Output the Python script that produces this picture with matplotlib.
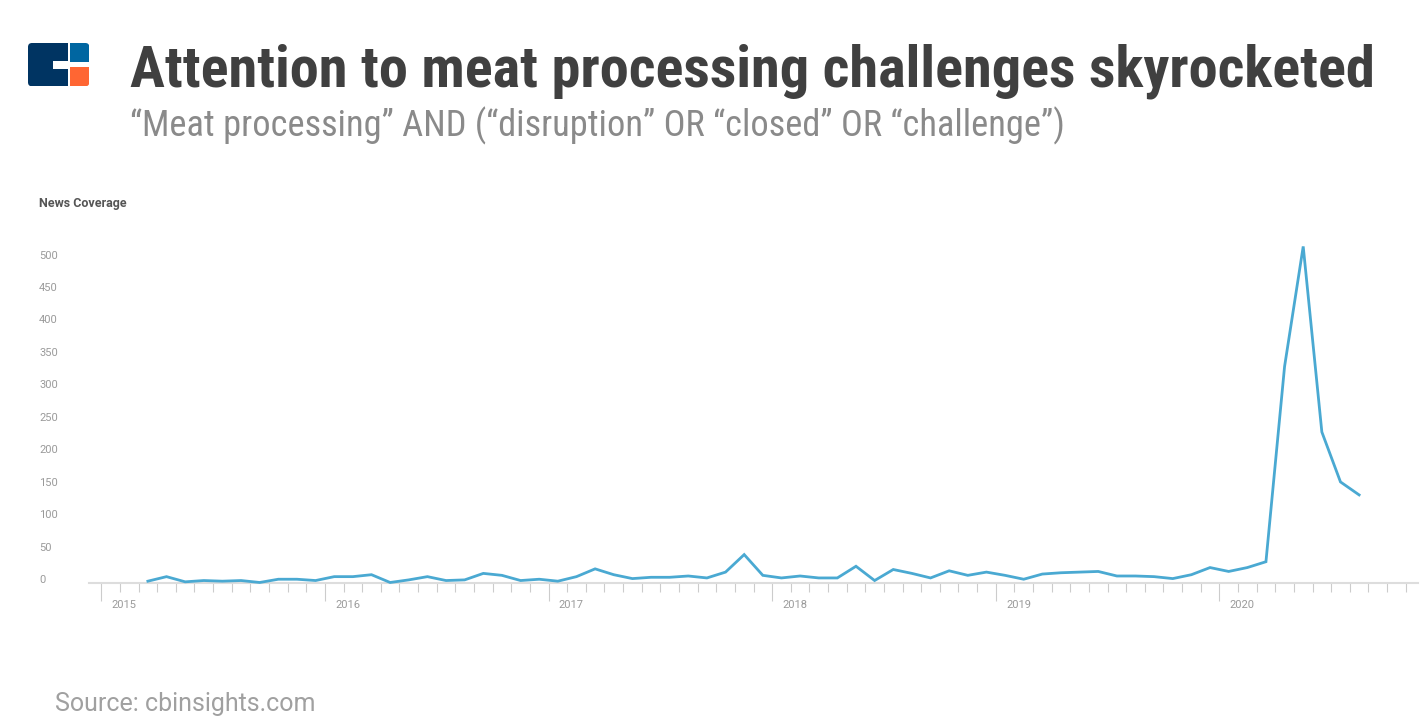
import matplotlib
matplotlib.use("Agg")
import matplotlib.pyplot as plt
from matplotlib import font_manager as fm
from matplotlib.patches import FancyBboxPatch, Rectangle
import matplotlib.transforms as mtransforms
import pandas as pd

# ---------------- data ----------------
start_month = "2015-03-01"
values = [
    # 2015 Mar..Dec
    2, 9, 1, 3, 2, 3, 0, 5, 5, 3,
    # 2016
    9, 9, 12, 0, 4, 9, 3, 4, 14, 11, 3, 5,
    # 2017
    2, 9, 21, 12, 6, 8, 8, 10, 7, 16, 43, 11,
    # 2018
    7, 10, 7, 7, 25, 3, 20, 14, 7, 18, 11, 16,
    # 2019
    11, 5, 13, 15, 16, 17, 10, 10, 9, 6, 12, 23,
    # 2020 Jan..Aug
    17, 23, 32, 333, 518, 232, 155, 135,
]
year_labels = ["2015", "2016", "2017", "2018", "2019", "2020"]
ytick_values = [0, 50, 100, 150, 200, 250, 300, 350, 400, 450, 500]

title = "Attention to meat processing challenges skyrocketed"
subtitle = "\u201cMeat processing\u201d AND (\u201cdisruption\u201d OR \u201cclosed\u201d OR \u201cchallenge\u201d)"
axis_title = "News Coverage"
source = "Source: cbinsights.com"

# ---------------- fonts ----------------
def pick_condensed(bold):
    best, best_score = None, -1
    for f in fm.fontManager.ttflist:
        s = (f.fname + " " + f.name).lower()
        w = f.weight if isinstance(f.weight, int) else fm.weight_dict.get(f.weight, 400)
        if bold and w < 600:
            continue
        if (not bold) and (w < 300 or w > 500):
            continue
        if "italic" in s or "oblique" in s or f.style != "normal":
            continue
        if "roboto" in s and "condensed" in s:
            score = 3
        elif "narrow" in s:
            score = 2
        elif "condensed" in s or f.stretch in ("condensed", "semi-condensed"):
            score = 1
        else:
            continue
        if not bold:
            score += 0.001 * (500 - abs(w - 400))
        if score > best_score:
            best, best_score = f, score
    return best

fb = pick_condensed(True)
fr = pick_condensed(False)
title_fp = fm.FontProperties(fname=fb.fname) if fb else fm.FontProperties(family="Roboto", weight="bold")
sub_fp = fm.FontProperties(fname=fr.fname) if fr else fm.FontProperties(family="Roboto")
plt.rcParams["font.family"] = ["Roboto", "DejaVu Sans"]

W, H = 1426, 728
fig = plt.figure(figsize=(W / 100, H / 100), dpi=100)
fig.patch.set_facecolor("white")

# ---------------- axes ----------------
ax = fig.add_axes([89 / W, 1 - 583 / H, (1418 - 89) / W, (583 - 219) / H])
dates = pd.date_range(start_month, periods=len(values), freq="MS")
x = dates.year + (dates.month - 0.5) / 12.0
ax.plot(x, values, color="#4aa9d2", lw=2.0, solid_joinstyle="miter", clip_on=False, zorder=3)

ax.set_xlim(2015 - 0.66 / 12, 2020 + 10.66 / 12)
ax.set_ylim(-0.8, 560.3)

years = [int(y) for y in year_labels]
ax.set_xticks(years)
minor = [y + m / 12 for y in range(2015, 2021) for m in range(1, 12) if y + m / 12 < 2020.9]
ax.set_xticks(minor, minor=True)
ax.tick_params(axis="x", which="major", length=13, width=0.8, color="#cccccc", labelbottom=False)
ax.tick_params(axis="x", which="minor", length=6.3, width=0.8, color="#cccccc")
ax.set_yticks([])
for s in ("left", "top", "right"):
    ax.spines[s].set_visible(False)
ax.spines["bottom"].set_color("#dddddd")
ax.spines["bottom"].set_linewidth(1.5)

lab_tr = mtransforms.offset_copy(ax.get_xaxis_transform(), fig=fig, x=0, y=-22, units="dots")
for y, lab in zip(years, year_labels):
    ax.text(y + 0.55 / 12, 0, lab, transform=lab_tr, ha="left", va="center",
            fontsize=8, color="#9a9a9a")

ylab_tr = mtransforms.offset_copy(ax.get_yaxis_transform(), fig=fig, x=0, y=2.5, units="dots")
for v in ytick_values:
    ax.text((39 - 89) / (1418 - 89), v, str(v), transform=ylab_tr, ha="left", va="center",
            fontsize=8, color="#9a9a9a")

fig.text(39 / W, 1 - 204 / H, axis_title, ha="left", va="center", fontsize=9,
         fontweight="bold", color="#555555")

# ---------------- titles ----------------
renderer = fig.canvas.get_renderer()

def fit_text(xp, yp, s, fp, size, target_w, color):
    t = fig.text(xp / W, 1 - yp / H, s, ha="left", va="baseline", fontproperties=fp,
                 color=color)
    t.set_fontsize(size)
    bb = t.get_window_extent(renderer)
    t.set_fontsize(size * target_w / bb.width)
    return t

fit_text(130, 86.5, title, title_fp, 39, 1245, "#404040")
fit_text(130, 136.5, subtitle, sub_fp, 25, 937, "#8a8a8a")

fig.text(55 / W, 1 - 711 / H, source, ha="left", va="baseline", fontsize=18, color="#a0a0a0")

# ---------------- logo ----------------
pix = mtransforms.Affine2D().scale(1, -1).translate(0, H)
clip = FancyBboxPatch((28, 43), 61.3, 43.3, boxstyle="round,pad=0,rounding_size=4",
                      transform=pix, facecolor="none", edgecolor="none")
fig.add_artist(clip)
for (x0, y0, w, h, c) in [(28, 43, 40.3, 43.3, "#003462"),
                          (70, 43, 19.3, 19.3, "#0066a1"),
                          (70, 67.3, 19.3, 19.0, "#ff6633")]:
    r = Rectangle((x0, y0), w, h, transform=pix, facecolor=c, edgecolor="none")
    fig.add_artist(r)
    r.set_clip_path(clip)
fig.add_artist(Rectangle((53.3, 61.3), 15.5, 8.2, transform=pix, facecolor="white", edgecolor="none"))

fig.savefig("out.png", dpi=100, facecolor="white")
